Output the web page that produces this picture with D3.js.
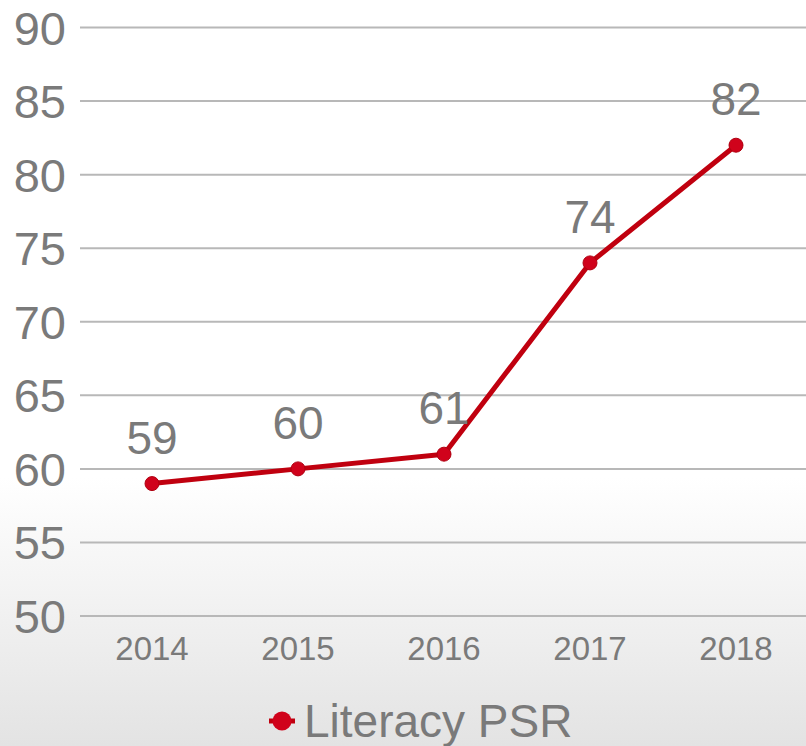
<!DOCTYPE html>
<meta charset="utf-8">
<style>

body {
  margin: 0;
}

text {
  font-family: "Liberation Sans", Arial, sans-serif;
  fill: #7a7a7a;
}

</style>
<svg></svg>
<script src="https://d3js.org/d3.v7.min.js"></script>
<script>

var years = ["2014", "2015", "2016", "2017", "2018"],
    literacy = [59, 60, 61, 74, 82],
    yTicks = [50, 55, 60, 65, 70, 75, 80, 85, 90],
    seriesName = "Literacy PSR";

var width = 806,
    height = 746;

var svg = d3.select("svg")
    .attr("width", width)
    .attr("height", height);

// Soft white-to-gray backdrop, as in the slide.
var grad = svg.append("defs").append("linearGradient")
    .attr("id", "bg")
    .attr("x1", 0).attr("y1", 0)
    .attr("x2", 0).attr("y2", 1);

grad.append("stop").attr("offset", "0%").attr("stop-color", "#ffffff");
grad.append("stop").attr("offset", "64%").attr("stop-color", "#ffffff");
grad.append("stop").attr("offset", "100%").attr("stop-color", "#e3e3e3");

svg.append("rect")
    .attr("width", width)
    .attr("height", height)
    .attr("fill", "url(#bg)");

var x = d3.scaleBand()
    .domain(years)
    .range([79, 809]);

var y = d3.scaleLinear()
    .domain([50, 90])
    .range([616, 27.5]);

function cx(d) { return x(d) + x.bandwidth() / 2; }

// horizontal gridlines
svg.append("g")
  .selectAll("line")
  .data(yTicks)
  .enter().append("line")
    .attr("x1", 80)
    .attr("x2", width)
    .attr("y1", function(d) { return y(d); })
    .attr("y2", function(d) { return y(d); })
    .attr("stroke", "#b8b8b8")
    .attr("stroke-width", 2);

// y tick labels
svg.append("g")
  .selectAll("text")
  .data(yTicks)
  .enter().append("text")
    .attr("x", 66)
    .attr("y", function(d) { return y(d) + 17; })
    .attr("text-anchor", "end")
    .style("font-size", "47px")
    .text(function(d) { return d; });

// x tick labels
svg.append("g")
  .selectAll("text")
  .data(years)
  .enter().append("text")
    .attr("x", cx)
    .attr("y", 660)
    .attr("text-anchor", "middle")
    .style("font-size", "33px")
    .text(function(d) { return d; });

var line = d3.line()
    .x(function(d, i) { return cx(years[i]); })
    .y(function(d) { return y(d); });

svg.append("path")
    .datum(literacy)
    .attr("d", line)
    .attr("fill", "none")
    .attr("stroke", "#c0000f")
    .attr("stroke-width", 5)
    .attr("stroke-linejoin", "round");

svg.append("g")
  .selectAll("circle")
  .data(literacy)
  .enter().append("circle")
    .attr("cx", function(d, i) { return cx(years[i]); })
    .attr("cy", function(d) { return y(d); })
    .attr("r", 7)
    .attr("fill", "#d0021b")
    .attr("stroke", "#b00010")
    .attr("stroke-width", 1);

// data labels
svg.append("g")
  .selectAll("text")
  .data(literacy)
  .enter().append("text")
    .attr("x", function(d, i) { return cx(years[i]); })
    .attr("y", function(d) { return y(d) - 30; })
    .attr("text-anchor", "middle")
    .style("font-size", "46px")
    .text(function(d) { return d; });

// legend
var legend = svg.append("g")
    .attr("transform", "translate(282,721)");

legend.append("line")
    .attr("x1", -13)
    .attr("x2", 13)
    .attr("stroke", "#c0000f")
    .attr("stroke-width", 5);

legend.append("circle")
    .attr("r", 9.5)
    .attr("fill", "#d0021b");

legend.append("text")
    .attr("x", 22)
    .attr("y", 16)
    .style("font-size", "46px")
    .text(seriesName);

</script>
